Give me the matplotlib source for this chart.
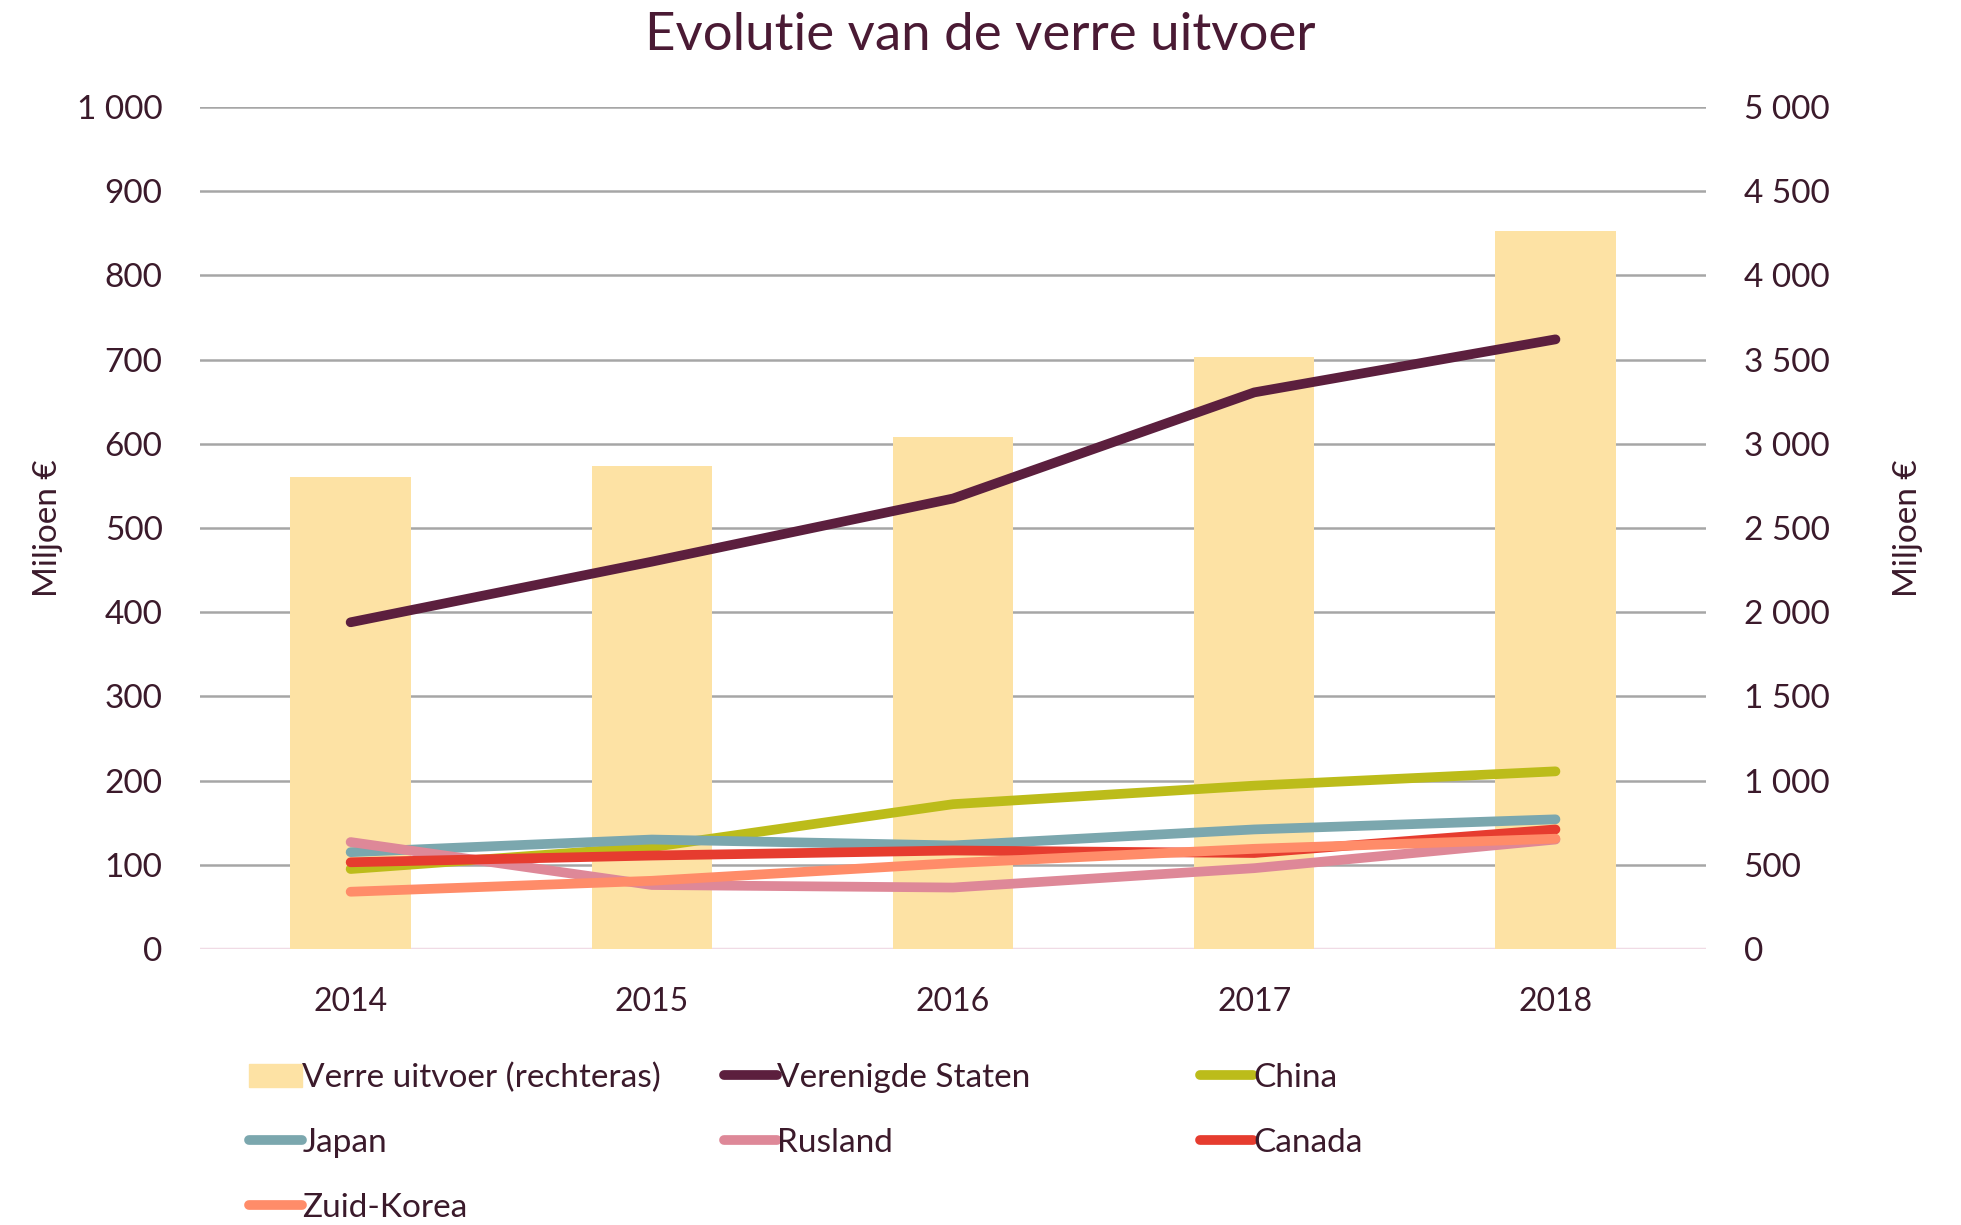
import matplotlib
matplotlib.use("Agg")
import matplotlib.pyplot as plt
from matplotlib.ticker import FuncFormatter, MultipleLocator
from matplotlib.patches import Patch
from matplotlib.lines import Line2D

plt.rcParams['font.family'] = ['Lato', 'DejaVu Sans']

years = ['2014', '2015', '2016', '2017', '2018']

# total far export (right axis, mln EUR)
verre_uitvoer = [2800, 2870, 3040, 3515, 4265]

# per country (left axis, mln EUR)
verenigde_staten = [388, 460, 535, 661, 724]
china = [95, 121, 172, 194, 211]
japan = [115, 130, 123, 142, 154]
rusland = [127, 76, 73, 96, 130]
canada = [103, 111, 117, 114, 142]
zuid_korea = [68, 81, 102, 119, 131]

series = [
    ('Verenigde Staten', verenigde_staten, '#5c1f3e'),
    ('China', china, '#bcbc1a'),
    ('Japan', japan, '#7ba7ae'),
    ('Rusland', rusland, '#de8898'),
    ('Canada', canada, '#e63c2f'),
    ('Zuid-Korea', zuid_korea, '#ff8c69'),
]
bar_color = '#fde2a4'
txt = '#3b1a2b'

fig = plt.figure(figsize=(19.61, 12.25), dpi=100)
ax = fig.add_axes([0.102, 0.2253, 0.768, 0.6874])
ax2 = ax.twinx()
ax.set_zorder(ax2.get_zorder() + 1)
ax.patch.set_visible(False)

x = range(len(years))

# bars + grid on the right axis
ax2.set_axisbelow(True)
ax2.bar(x, verre_uitvoer, width=0.4, color=bar_color, zorder=2)
ax2.set_ylim(0, 5000)
ax2.yaxis.set_major_locator(MultipleLocator(500))
ax2.grid(axis='y', color='#a6a6a6', linewidth=1.8, zorder=0)
ax2.axhline(0, color='#f0dbe5', linewidth=2.5, zorder=1)

for name, vals, col in series:
    ax.plot(x, vals, color=col, linewidth=7, solid_capstyle='round',
            solid_joinstyle='round')

ax.set_xlim(-0.5, 4.5)
ax.set_ylim(0, 1000)
ax.yaxis.set_major_locator(MultipleLocator(100))
ax.set_xticks(list(x))
ax.set_xticklabels(years)

fmt = FuncFormatter(lambda v, p: '{:,}'.format(int(v)).replace(',', ' '))
ax.yaxis.set_major_formatter(fmt)
ax2.yaxis.set_major_formatter(fmt)

for a in (ax, ax2):
    for s in a.spines.values():
        s.set_visible(False)
    a.tick_params(length=0, colors=txt, labelsize=24)
ax.tick_params(axis='y', pad=27)
ax2.tick_params(axis='y', pad=27)
ax.tick_params(axis='x', pad=27, labelsize=23)

ax.set_ylabel('Miljoen €', fontsize=24, color=txt, labelpad=10)
ax2.set_ylabel('Miljoen €', fontsize=24, color=txt, labelpad=46, rotation=90)

fig.text(0.5, 0.9714, 'Evolutie van de verre uitvoer', ha='center',
         va='center', fontsize=38, color='#4a1a34')

# legend, three columns placed by hand
def handle(col):
    return Line2D([], [], color=col, linewidth=7, solid_capstyle='round')

cols = {name: col for name, vals, col in series}
legend_cols = [
    (0.127, [(Patch(color=bar_color), 'Verre uitvoer (rechteras)'),
             (handle(cols['Japan']), 'Japan'),
             (handle(cols['Zuid-Korea']), 'Zuid-Korea')]),
    (0.369, [(handle(cols['Verenigde Staten']), 'Verenigde Staten'),
             (handle(cols['Rusland']), 'Rusland')]),
    (0.612, [(handle(cols['China']), 'China'),
             (handle(cols['Canada']), 'Canada')]),
]
for xpos, entries in legend_cols:
    fig.legend([e[0] for e in entries], [e[1] for e in entries],
               loc='upper left', bbox_to_anchor=(xpos, 0.1325),
               frameon=False, fontsize=24, labelcolor=txt,
               handlelength=1.6, handletextpad=0.0, labelspacing=1.05,
               borderpad=0, borderaxespad=0)

fig.savefig('out.png', dpi=100)
